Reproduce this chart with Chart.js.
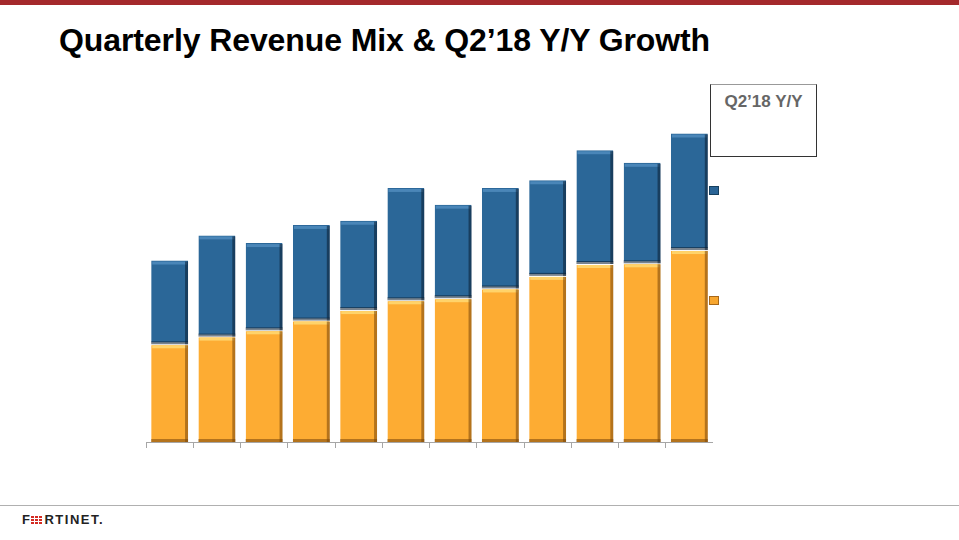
<!DOCTYPE html>
<html>
<head>
<meta charset="utf-8">
<script src="https://cdn.jsdelivr.net/npm/chart.js@4/dist/chart.umd.min.js"></script>
<style>
  html, body { margin: 0; padding: 0; background: #fff; }
  body { width: 959px; height: 540px; position: relative; overflow: hidden; font-family: "Liberation Sans", Arial, sans-serif; }
  .topbar { position: absolute; left: 0; top: 0; width: 959px; height: 5px; background: #a4292c; }
  h1 { position: absolute; left: 59px; top: 22px; margin: 0; font-size: 32px; font-weight: bold; color: #000; letter-spacing: -0.1px; }
  .chartWrap { position: absolute; left: 146px; top: 93px; width: 567px; height: 355px; }
  .yybox { position: absolute; left: 710px; top: 84px; width: 105px; height: 71px; border: 1px solid #333; border-top-color: #999; background: #fff; }
  .yybox span { display: block; text-align: center; margin-top: 7px; font-size: 17px; font-weight: bold; color: #666; }
  .mark { position: absolute; left: 709px; width: 8px; height: 7px; }
  .mark.blue { top: 186px; background: #2a6496; border: 1px solid #17405f; }
  .mark.orange { top: 296px; background: #f7a62f; border: 1px solid #a8681a; }
  .footline { position: absolute; left: 0; top: 505px; width: 959px; height: 1px; background: #b0b0b0; }
  .logo { position: absolute; left: 22px; top: 512px; font-size: 13px; font-weight: bold; color: #222; letter-spacing: 1.5px; display: flex; align-items: center; }
  .logo .o { display: inline-grid; grid-template-columns: repeat(3, 3px); grid-gap: 1px; margin: 0 2px 0 0; }
  .logo .o i { width: 3px; height: 2px; background: #d42a22; display: block; }
</style>
</head>
<body>
<div class="topbar"></div>
<h1>Quarterly Revenue Mix &amp; Q2’18 Y/Y Growth</h1>
<div class="chartWrap"><canvas id="chartCanvas"></canvas></div>
<div class="yybox"><span>Q2’18 Y/Y</span></div>
<div class="mark blue"></div>
<div class="mark orange"></div>
<div class="footline"></div>
<div class="logo">F<span class="o"><i></i><i></i><i></i><i></i><i></i><i></i><i></i><i></i><i></i></span>RTINET.</div>
<script>
// Quarters Q3'15 .. Q2'18 (no labels are shown on the slide)
const quarters = ["Q3'15", "Q4'15", "Q1'16", "Q2'16", "Q3'16", "Q4'16", "Q1'17", "Q2'17", "Q3'17", "Q4'17", "Q1'18", "Q2'18"];
// Revenue in $M
const services = [140, 151, 160, 174, 189, 203, 206, 220, 238, 255, 256, 275];
const product = [120, 145, 125, 137, 128, 161, 134, 144, 137, 163, 144, 167];

// Draws a simple bevel on each bar: light top edge, dark right and bottom edges.
const bevelPlugin = {
  id: 'bevel',
  afterDatasetsDraw(chart) {
    const ctx = chart.ctx;
    chart.data.datasets.forEach((ds, i) => {
      const meta = chart.getDatasetMeta(i);
      meta.data.forEach((bar) => {
        const { x, y, base, width } = bar.getProps(['x', 'y', 'base', 'width'], true);
        const left = x - width / 2;
        const right = x + width / 2;
        const top = Math.min(y, base);
        const bottom = Math.max(y, base);
        ctx.save();
        ctx.fillStyle = ds.lightEdge;
        ctx.fillRect(left + 1, top + 1, width - 2, 3);
        ctx.fillStyle = ds.darkEdge;
        ctx.fillRect(right - 3, top + 1, 3, bottom - top - 1);
        ctx.fillRect(left, bottom - 3, width, 3);
        ctx.restore();
      });
    });
  }
};

const chartInstance = new Chart(document.getElementById('chartCanvas').getContext('2d'), {
  type: 'bar',
  data: {
    labels: quarters,
    datasets: [
      {
        label: 'Services',
        data: services,
        backgroundColor: '#fdac33',
        borderColor: '#ffffff',
        borderWidth: { top: 1, left: 0, right: 0, bottom: 0 },
        borderSkipped: false,
        lightEdge: '#ffd36a',
        darkEdge: 'rgba(120,70,10,0.55)',
        barPercentage: 0.78,
        categoryPercentage: 1
      },
      {
        label: 'Product',
        data: product,
        backgroundColor: '#2b6798',
        borderColor: '#ffffff',
        borderWidth: { top: 0, left: 0, right: 0, bottom: 2 },
        borderSkipped: false,
        lightEdge: '#4a86b8',
        darkEdge: 'rgba(10,30,50,0.55)',
        barPercentage: 0.78,
        categoryPercentage: 1
      }
    ]
  },
  options: {
    responsive: true,
    maintainAspectRatio: false,
    animation: false,
    layout: { padding: 0 },
    plugins: {
      legend: { display: false },
      tooltip: { enabled: false }
    },
    scales: {
      x: {
        stacked: true,
        border: { display: true, color: '#a6a6a6', width: 1 },
        grid: { display: true, drawOnChartArea: false, drawTicks: true, tickLength: 6, color: '#a6a6a6', offset: true },
        ticks: { display: false }
      },
      y: {
        stacked: true,
        display: false,
        min: 0,
        max: 500
      }
    }
  },
  plugins: [bevelPlugin]
});
</script>
</body>
</html>
